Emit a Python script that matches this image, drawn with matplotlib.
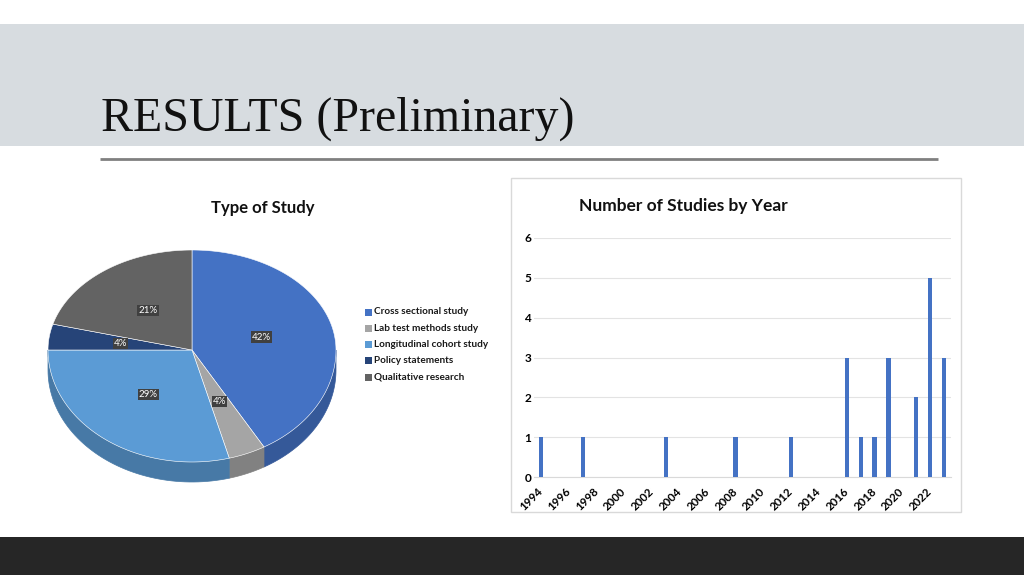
import numpy as np
import matplotlib
matplotlib.use("Agg")
import matplotlib.pyplot as plt
from matplotlib.patches import Rectangle, Polygon
from matplotlib.colors import to_rgb

# ---------------- data ----------------
pie_categories = ["Cross sectional study", "Lab test methods study",
                  "Longitudinal cohort study", "Policy statements",
                  "Qualitative research"]
pie_counts = [10, 1, 7, 1, 5]
pie_colors = ["#4472C4", "#A5A5A5", "#5B9BD5", "#264478", "#636363"]

years = list(range(1994, 2024))
study_years = [1994, 1997, 2003, 2008, 2012, 2016, 2017, 2018, 2019, 2021, 2022, 2023]
study_counts = [1, 1, 1, 1, 1, 3, 1, 1, 3, 2, 5, 3]
year_tick_labels = [str(y) for y in range(1994, 2023, 2)]
y_ticks = [0, 1, 2, 3, 4, 5, 6]

slide_title = "RESULTS (Preliminary)"
pie_title = "Type of Study"
bar_title = "Number of Studies by Year"

# ---------------- figure ----------------
W, H = 1024, 575
fig = plt.figure(figsize=(W / 100, H / 100), dpi=100)
fig.patch.set_facecolor("white")
bg = fig.add_axes([0, 0, 1, 1])
bg.set_xlim(0, W)
bg.set_ylim(H, 0)
bg.axis("off")

# header band, title, rule, footer
bg.add_patch(Rectangle((0, 24), W, 122, facecolor="#D7DCE0", edgecolor="none", zorder=0))
bg.text(101, 131, slide_title, family="Liberation Serif", fontsize=34.5,
        color="#111111", va="baseline", ha="left")
bg.plot([100, 938], [159, 159], color="#808080", lw=2, solid_capstyle="butt")
bg.add_patch(Rectangle((0, 537), W, 38, facecolor="#262626", edgecolor="none", zorder=0))

# bar chart frame
bg.add_patch(Rectangle((511, 178), 450, 334, facecolor="white", edgecolor="#D9D9D9", lw=1, zorder=0.5))

# ---------------- 3D-like pie ----------------
cx, cy = 192, 350
a = 144
b_back, b_front = 100, 112
depth = 20


def pt(t):
    tr = np.radians(t)
    s = np.sin(tr)
    b = b_back if s >= 0 else b_front
    return cx + a * np.cos(tr), cy - b * s


def darker(c, f=0.78):
    r, g, bb = to_rgb(c)
    return (r * f, g * f, bb * f)


total = sum(pie_counts)
start = 90.0
wedges = []
for cnt in pie_counts:
    span = 360.0 * cnt / total
    wedges.append((start - span, start))
    start -= span

# sides (front half only)
for (t2, t1), col in zip(wedges, pie_colors):
    for lo, hi in [(-180, 0), (180, 360), (-540, -360)]:
        s0, s1 = max(t2, lo), min(t1, hi)
        if s1 > s0:
            ts = np.linspace(s0, s1, 60)
            top = [pt(t) for t in ts]
            bot = [(x, y + depth) for x, y in top[::-1]]
            bg.add_patch(Polygon(top + bot, closed=True, facecolor=darker(col),
                                 edgecolor=darker(col), lw=0.5, zorder=2))

# tops
for (t2, t1), col in zip(wedges, pie_colors):
    ts = np.linspace(t1, t2, 120)
    verts = [(cx, cy)] + [pt(t) for t in ts]
    bg.add_patch(Polygon(verts, closed=True, facecolor=col, edgecolor="white",
                         lw=0.4, zorder=3))

# data labels
for (t2, t1), cnt in zip(wedges, pie_counts):
    mid = np.radians((t1 + t2) / 2)
    s = np.sin(mid)
    b = b_back if s >= 0 else b_front
    x = cx + 0.5 * a * np.cos(mid)
    y = cy - 0.5 * b * s
    bg.text(x, y, f"{round(100 * cnt / total)}%", color="white", fontsize=7,
            family="Lato", ha="center", va="center", zorder=5,
            bbox=dict(boxstyle="square,pad=0.12", facecolor="#404040", edgecolor="none"))

bg.text(263, 208, pie_title, family="Lato", fontweight="bold", fontsize=12,
        ha="center", va="center", color="#111111")

# legend
for i, (lab, col) in enumerate(zip(pie_categories, pie_colors)):
    yy = 312 + i * 16.3
    bg.add_patch(Rectangle((364.5, yy - 3.5), 7, 7, facecolor=col, edgecolor="none"))
    bg.text(374, yy, lab, family="Lato", fontweight="bold", fontsize=7.2,
            ha="left", va="center", color="#1a1a1a")

# ---------------- bar chart ----------------
ax = fig.add_axes([534 / W, (H - 477) / H, 417 / W, 239 / H])
ax.set_facecolor("none")
idx = [years.index(y) for y in study_years]
ax.bar(idx, study_counts, width=0.3, color="#4472C4", zorder=3)
ax.set_xlim(-0.5, len(years) - 0.5)
ax.set_ylim(0, 6)
ax.set_yticks(y_ticks)
ax.set_yticklabels([str(v) for v in y_ticks], family="Lato", fontweight="bold", fontsize=8.5)
ax.set_xticks([years.index(int(s)) for s in year_tick_labels])
ax.set_xticklabels(year_tick_labels, rotation=45, ha="right", va="center",
                   rotation_mode="anchor", family="Lato",
                   fontweight="bold", fontsize=8.3)
ax.tick_params(axis="x", length=0, pad=9)
ax.tick_params(axis="y", length=0, pad=2)
ax.grid(axis="y", color="#E3E3E3", lw=0.8, zorder=0)
for sp in ["top", "right", "left"]:
    ax.spines[sp].set_visible(False)
ax.spines["bottom"].set_color("#D9D9D9")
ax.spines["bottom"].set_linewidth(0.8)

bg.text(683, 206, bar_title, family="Lato", fontweight="bold", fontsize=12.5,
        ha="center", va="center", color="#111111")

fig.savefig("out.png", dpi=100)
